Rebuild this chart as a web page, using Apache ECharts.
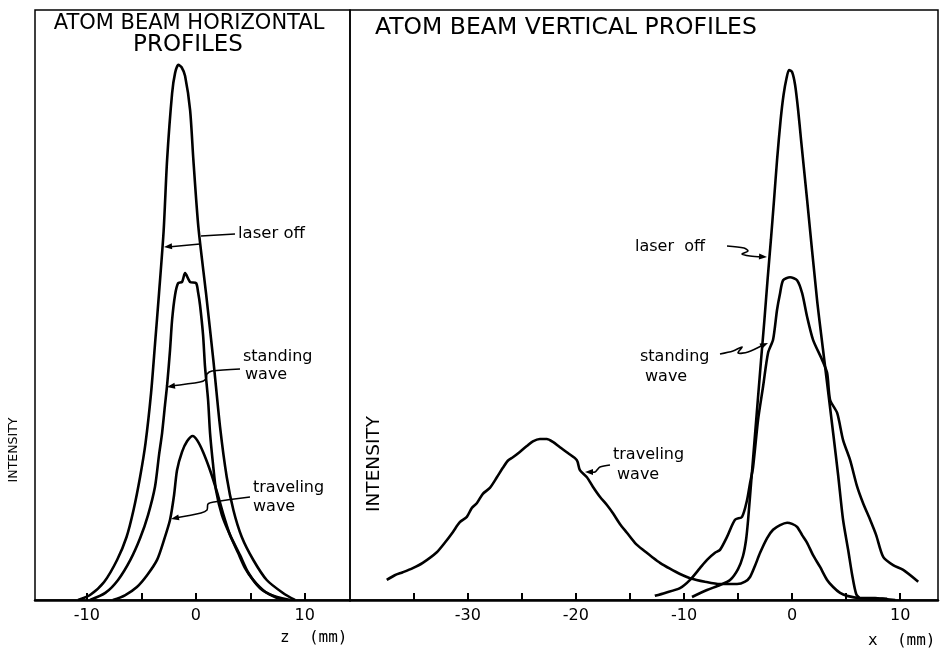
<!DOCTYPE html>
<html>
<head>
<meta charset="utf-8">
<script src="https://cdn.jsdelivr.net/npm/echarts@6.0.0/dist/echarts.min.js"></script>
<style>
html,body{margin:0;padding:0;background:#fff;}
#chart{width:940px;height:649px;}
</style>
</head>
<body>
<div id="chart"></div>
<script>
// ---------- DATA ----------
// Horizontal profiles (z in mm, intensity arbitrary)
const hTickValues = [-10, -5, 0, 5, 10];
const hLabelValues = [-10, 0, 10];
const hLaserOff = [[-10.8,0],[-9.7,0.85],[-8.41,3.05],[-7.22,6.78],[-6.35,10.68],[-5.71,15.25],[-5.11,20.85],[-4.61,26.6],[-4.1,35.1],[-3.73,43.6],[-3.37,52.0],[-2.95,62.5],[-2.63,74.6],[-2.17,85.9],[-1.9,89.3],[-1.6,90.7],[-1.3,90.3],[-0.98,88.8],[-0.52,83.05],[-0.22,74.6],[0.24,63.2],[0.94,52.0],[1.61,40.7],[2.23,29.3],[2.84,20.85],[3.45,15.25],[4.22,10.68],[5.28,6.78],[6.51,3.39],[8.0,1.19],[9.1,0]];
const hStanding = [[-9.7,0],[-8.3,1.2],[-7.13,3.4],[-6.0,6.8],[-5.1,10.5],[-4.38,14.4],[-3.74,19.2],[-3.37,24.6],[-3.09,28.3],[-2.82,33.1],[-2.63,36.4],[-2.36,42.4],[-2.17,47.5],[-1.9,51.7],[-1.62,53.7],[-1.26,53.9],[-0.98,55.4],[-0.52,53.9],[0.03,53.7],[0.21,52.2],[0.39,50],[0.67,44.9],[0.85,39.5],[1.13,33.9],[1.31,28.3],[1.59,22.9],[1.86,18.6],[2.4,14.4],[3.15,11],[4.06,7.6],[4.8,4.7],[5.9,2],[7.27,0.5],[8.2,0]];
const hTraveling = [[-7.6,0],[-6.5,0.8],[-5.4,2.2],[-4.47,4.2],[-3.55,6.8],[-2.91,10.2],[-2.36,13.6],[-1.99,17.8],[-1.72,22],[-1.26,25.1],[-0.8,26.9],[-0.28,27.8],[0.12,27.1],[0.67,25.1],[1.31,22],[1.95,18.3],[2.5,14.7],[3.15,11],[3.88,8],[4.52,5.4],[5.26,3.4],[6.36,1.4],[7.46,0.5],[8.65,0]];

// Vertical profiles (x in mm)
const vTickValues = [-35, -30, -25, -20, -15, -10, -5, 0, 5, 10];
const vLabelValues = [-30, -20, -10, 0, 10];
const vLaserOff = [[-9.26,0.51],[-7.87,1.69],[-6.67,2.54],[-5.74,3.39],[-5.0,5.25],[-4.54,7.46],[-4.26,10.17],[-4.07,13.56],[-3.77,20.34],[-3.47,27.12],[-3.17,33.9],[-2.87,40.68],[-2.56,47.46],[-2.27,54.24],[-1.96,61.02],[-1.67,67.8],[-1.39,74.58],[-1.06,81.36],[-0.79,85.59],[-0.51,88.47],[-0.28,89.83],[0,89.49],[0.28,87.29],[0.56,83.05],[0.83,77.97],[1.39,67.8],[2.31,50.85],[3.06,39.49],[3.8,28.31],[4.26,21.19],[4.72,13.56],[5.19,8.47],[5.56,4.24],[5.93,1.02],[6.3,0.34],[7.69,0.34],[8.61,0.17],[9.54,0]];
const vStanding = [[-12.7,0.7],[-11.76,1.2],[-10.37,2],[-9.44,3.4],[-8.52,5.4],[-7.87,6.8],[-7.13,8],[-6.67,8.5],[-6.02,10.7],[-5.28,13.6],[-4.63,14.1],[-4.17,16.9],[-3.89,19.8],[-3.61,22.5],[-3.15,30.5],[-2.69,36.1],[-2.22,41.9],[-1.76,44.1],[-1.39,49.2],[-1.11,52],[-0.83,54.2],[-0.19,54.7],[0.46,54.2],[0.93,52],[1.39,48],[1.94,44.1],[2.78,40.7],[3.24,38.5],[3.52,33.9],[4.17,31.7],[4.72,27.1],[5.37,23.7],[6.02,19.2],[6.57,16.4],[7.22,13.6],[7.78,11],[8.43,7.3],[9.35,5.9],[10.28,5.1],[11.67,3.1]];
const vTraveling = [[-37.5,3.4],[-36.76,4.2],[-36.02,4.7],[-35.09,5.4],[-34.17,6.3],[-32.87,8.1],[-32.13,9.7],[-31.39,11.5],[-30.74,13.2],[-30.09,14.1],[-29.63,15.6],[-29.17,16.4],[-28.61,18],[-27.96,19],[-27.31,20.8],[-26.76,22.4],[-26.3,23.6],[-25.83,24.2],[-25.19,25.1],[-24.54,26.1],[-23.98,26.9],[-23.33,27.3],[-22.69,27.3],[-22.13,26.8],[-21.48,25.9],[-20.74,24.9],[-19.91,23.7],[-19.63,22],[-18.98,20.8],[-18.43,19.2],[-17.78,17.5],[-17.13,16.1],[-16.57,14.7],[-15.93,12.9],[-15.28,11.4],[-14.54,9.7],[-13.8,8.5],[-12.96,7.3],[-12.22,6.3],[-11.3,5.3],[-10.37,4.4],[-9.44,3.7],[-8.06,3.1],[-6.67,2.7],[-5.09,2.7],[-4.35,3.1],[-3.89,3.9],[-3.43,5.8],[-2.96,8],[-2.31,10.5],[-1.76,11.9],[-1.11,12.7],[-0.46,13.1],[0,12.9],[0.46,12.4],[0.93,11],[1.39,9.7],[1.94,7.6],[2.59,5.6],[3.24,3.4],[3.8,2.2],[4.44,1.2],[5.09,0.7],[6.3,0.3],[8.8,0.2]];

// ---------- CHART ----------
const chart = echarts.init(document.getElementById('chart'), null, {renderer: 'canvas'});
const FONT = 'DejaVu Sans';
const lineStyle = {color: '#000', width: 2.6};

function xAxisCfg(gridIndex, min, max, ticks, labels) {
  return {
    type: 'value', gridIndex, min, max,
    axisLine: {show: true, onZero: false, lineStyle: {color: '#000', width: 2.5}},
    axisTick: {show: true, inside: true, length: 7, customValues: ticks, lineStyle: {color: '#000', width: 2}},
    axisLabel: {show: true, customValues: labels, margin: 8, color: '#000', fontSize: 16, fontFamily: FONT},
    splitLine: {show: false}
  };
}
function yAxisCfg(gridIndex) {
  return {type: 'value', gridIndex, min: 0, max: 100, axisLine: {show: false}, axisTick: {show: false}, axisLabel: {show: false}, splitLine: {show: false}};
}
function ser(name, data, xi, yi) {
  return {name, type: 'line', data, xAxisIndex: xi, yAxisIndex: yi, showSymbol: false, smooth: 0.25, lineStyle, animation: false, silent: true};
}

// annotation helpers (pixel-space leaders and arrows)
function leader(points) {
  return {type: 'polyline', shape: {points, smooth: 0.3}, style: {stroke: '#000', lineWidth: 1.6, fill: null}, silent: true};
}
function head(tip, from) {
  const dx = tip[0] - from[0], dy = tip[1] - from[1];
  const L = Math.sqrt(dx * dx + dy * dy); const ux = dx / L, uy = dy / L;
  const len = 8, w = 3;
  const bx = tip[0] - ux * len, by = tip[1] - uy * len;
  return {type: 'polygon', shape: {points: [tip, [bx - uy * w, by + ux * w], [bx + uy * w, by - ux * w]]}, style: {fill: '#000'}, silent: true};
}
function txt(x, y, text, size, align, family) {
  return {type: 'text', x, y, style: {text, fill: '#000', font: size + 'px "' + (family || FONT) + '"', textAlign: align || 'left', textVerticalAlign: 'middle'}, silent: true};
}
function vtxt(x, y, text, size) {
  return {type: 'text', x, y, rotation: Math.PI / 2, style: {text, fill: '#000', font: size + 'px "' + FONT + '"', textAlign: 'center', textVerticalAlign: 'middle'}, silent: true};
}

const graphics = [
  txt(189, 24, 'ATOM BEAM HORIZONTAL', 21, 'center'),
  txt(188, 45, 'PROFILES', 23, 'center'),
  txt(375, 28, 'ATOM BEAM VERTICAL PROFILES', 23.5, 'left'),
  vtxt(14, 450, 'INTENSITY', 12.5),
  vtxt(374, 464, 'INTENSITY', 18.5),
  txt(280, 638, 'z  (mm)', 16, 'left', 'DejaVu Sans Mono'),
  txt(868, 641, 'x  (mm)', 16, 'left', 'DejaVu Sans Mono'),
  // left annotations
  txt(238, 234, 'laser off', 16.5),
  txt(243, 357, 'standing', 16),
  txt(245, 375, 'wave', 16),
  txt(253, 488, 'traveling', 16),
  txt(253, 507, 'wave', 16),
  leader([[235, 234], [201, 236]]),
  leader([[200, 244], [168, 247]]), head([164, 247], [200, 244]),
  leader([[240, 369], [212, 371], [207, 374], [206, 379], [200, 382], [170, 386]]), head([167, 387], [200, 382]),
  leader([[250, 497], [214, 502], [208, 504], [207, 510], [201, 513], [175, 518]]), head([171, 519], [201, 513]),
  // right annotations
  txt(635, 247, 'laser  off', 16),
  txt(640, 357, 'standing', 16),
  txt(645, 377, 'wave', 16),
  txt(613, 455, 'traveling', 16),
  txt(617, 475, 'wave', 16),
  leader([[727, 246], [744, 248], [748, 251], [742, 254], [750, 256], [762, 257]]), head([767, 257], [750, 256]),
  leader([[720, 354], [733, 351], [742, 347], [738, 353], [748, 352], [763, 345]]), head([768, 343], [748, 352]),
  leader([[610, 465], [600, 467], [597, 470], [595, 472], [590, 472]]), head([585, 472], [595, 472])
];

const option = {
  backgroundColor: '#fff',
  animation: false,
  grid: [
    {left: 35, right: 590, top: 10, bottom: 49, show: true, borderColor: '#000', borderWidth: 1.5, backgroundColor: 'transparent'},
    {left: 350, right: 2, top: 10, bottom: 49, show: true, borderColor: '#000', borderWidth: 1.5, backgroundColor: 'transparent'}
  ],
  xAxis: [
    xAxisCfg(0, -14.75, 14.15, hTickValues, hLabelValues),
    xAxisCfg(1, -40.9, 13.5, vTickValues, vLabelValues)
  ],
  yAxis: [yAxisCfg(0), yAxisCfg(1)],
  series: [
    ser('laser off (horizontal)', hLaserOff, 0, 0),
    ser('standing wave (horizontal)', hStanding, 0, 0),
    ser('traveling wave (horizontal)', hTraveling, 0, 0),
    ser('laser off (vertical)', vLaserOff, 1, 1),
    ser('standing wave (vertical)', vStanding, 1, 1),
    ser('traveling wave (vertical)', vTraveling, 1, 1)
  ],
  graphic: graphics
};
chart.setOption(option);
</script>
</body>
</html>
